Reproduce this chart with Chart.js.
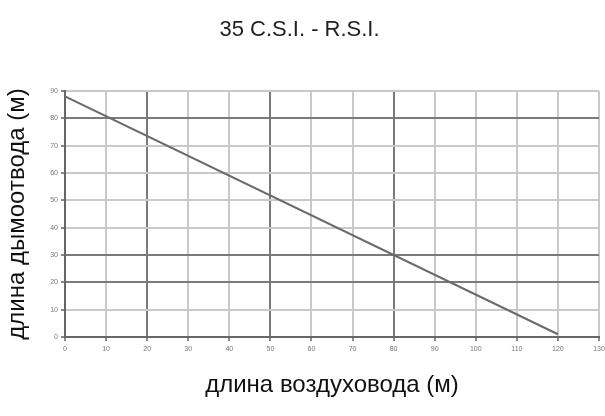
<!DOCTYPE html>
<html>
<head>
<meta charset="utf-8">
<script src="https://cdn.jsdelivr.net/npm/chart.js@4"></script>
<style>
  html, body { margin: 0; padding: 0; background: #fff; }
  #wrap { width: 605px; height: 416px; }
</style>
</head>
<body>
<div id="wrap"><canvas id="chart"></canvas></div>
<script>
// airduct length (m) vs. flue length (m)
const airLength = [0, 120];
const flueLength = [88, 1];
const xTicks = [0, 10, 20, 30, 40, 50, 60, 70, 80, 90, 100, 110, 120, 130];
const yTicks = [0, 10, 20, 30, 40, 50, 60, 70, 80, 90];
const darkX = [0, 20, 50, 80];
const darkY = [0, 20, 30, 80];

const FONT = "'Liberation Sans', Arial, sans-serif";

const gridColor = (dark) => (ctx) => {
    const v = ctx.tick ? ctx.tick.value : null;
    return dark.includes(v) ? '#7a7a7a' : '#c9c9c9';
};

new Chart(document.getElementById('chart'), {
    type: 'line',
    data: {
        datasets: [{
            data: airLength.map((x, i) => ({ x: x, y: flueLength[i] })),
            borderColor: '#6a6a6a',
            borderWidth: 2,
            pointRadius: 0,
            tension: 0
        }]
    },
    options: {
        responsive: true,
        maintainAspectRatio: false,
        animation: false,
        layout: { padding: { top: 0, right: 6, bottom: 0, left: 0 } },
        plugins: {
            legend: { display: false },
            tooltip: { enabled: false },
            title: {
                display: true,
                text: '35 C.S.I. - R.S.I.',
                color: '#222',
                font: { family: FONT, size: 22, weight: 'normal' },
                padding: { top: 17, bottom: 47.6 }
            }
        },
        scales: {
            x: {
                type: 'linear',
                min: 0,
                max: 130,
                afterBuildTicks: (s) => { s.ticks = xTicks.map(v => ({ value: v })); },
                afterFit: (s) => { s.height = 79; s.paddingRight = 0; },
                grid: { color: gridColor(darkX), lineWidth: 2, tickLength: 4, tickColor: '#888' },
                border: { color: '#666', width: 2 },
                ticks: { color: '#777', font: { family: FONT, size: 7 }, padding: 4, maxRotation: 0 },
                title: {
                    display: true,
                    text: 'длина воздуховода (м)',
                    color: '#111',
                    font: { family: FONT, size: 24 },
                    padding: { top: 0, bottom: 16.6 }
                }
            },
            y: {
                type: 'linear',
                min: 0,
                max: 90,
                afterBuildTicks: (s) => { s.ticks = yTicks.map(v => ({ value: v })); },
                afterFit: (s) => { s.width = 65; },
                grid: { color: gridColor(darkY), lineWidth: 2, tickLength: 4, tickColor: '#888' },
                border: { color: '#666', width: 2 },
                ticks: { color: '#777', font: { family: FONT, size: 7 }, padding: 3 },
                title: {
                    display: true,
                    text: 'длина дымоотвода (м)',
                    color: '#111',
                    font: { family: FONT, size: 24 },
                    padding: { top: 3, bottom: 0 }
                }
            }
        }
    }
});
</script>
</body>
</html>
